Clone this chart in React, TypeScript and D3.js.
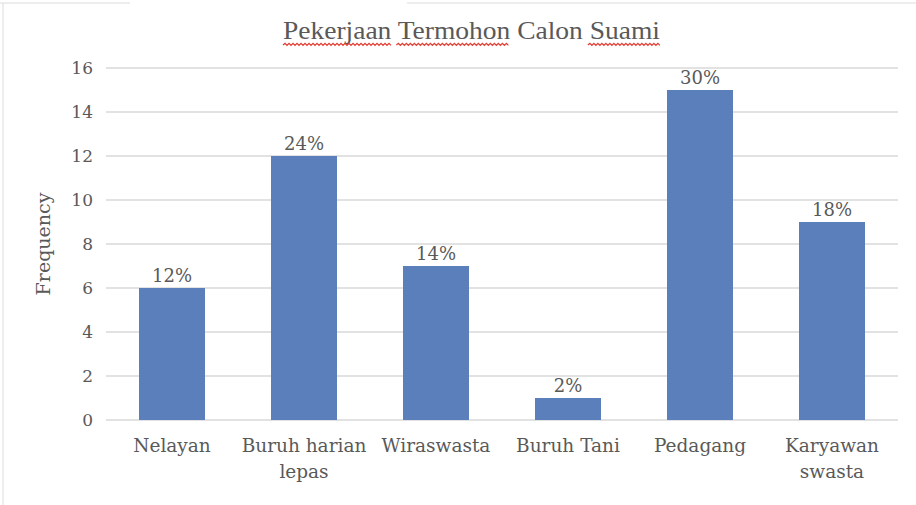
import React from "react";
import * as d3 from "d3";

const categories = ["Nelayan", "Buruh harian|lepas", "Wiraswasta", "Buruh Tani", "Pedagang", "Karyawan|swasta"];
const frequencies = [6, 12, 7, 1, 15, 9];
const percentLabels = ["12%", "24%", "14%", "2%", "30%", "18%"];
const yTicks = [0, 2, 4, 6, 8, 10, 12, 14, 16];
const titleWords = ["Pekerjaan", "Termohon", "Calon", "Suami"];
const misspelled = [true, true, false, true];

const W = 916;
const H = 505;
const margin = { left: 106, right: 18, top: 68, bottom: 85 };
const labelFont = "'DejaVu Serif', serif";
const textGrey = "#595959";

const wavyPath = (x0: number, x1: number, y: number) => {
  const step = 2;
  let d = `M${x0},${y}`;
  let up = true;
  for (let x = x0 + step; x <= x1; x += step) {
    d += ` L${x},${up ? y - 1.6 : y + 0.4}`;
    up = !up;
  }
  return d;
};

const Title = () => {
  const ref = React.useRef<SVGTextElement>(null);
  const [squiggles, setSquiggles] = React.useState<string[]>([]);

  React.useEffect(() => {
    const el = ref.current;
    if (!el) return;
    const spans = Array.from(el.querySelectorAll("tspan")) as SVGTSpanElement[];
    const paths: string[] = [];
    spans.forEach((s, i) => {
      if (!misspelled[i]) return;
      const b = s.getBBox();
      const start = i > 0 ? b.x + 5 : b.x;
      paths.push(wavyPath(start, b.x + b.width, 45));
    });
    setSquiggles(paths);
  }, []);

  return (
    <g>
      <text
        ref={ref}
        x={283}
        y={39}
        textLength={377}
        lengthAdjust="spacingAndGlyphs"
        fontFamily="'Liberation Serif', serif"
        fontSize={26}
        fill={textGrey}
      >
        {titleWords.map((w, i) => (
          <tspan key={w}>{(i > 0 ? " " : "") + w}</tspan>
        ))}
      </text>
      {squiggles.map((d, i) => (
        <path key={i} d={d} fill="none" stroke="#e03c31" strokeWidth={1.2} />
      ))}
    </g>
  );
};

const App = () => {
  const x = d3
    .scaleBand<string>()
    .domain(categories)
    .range([margin.left, 898])
    .paddingInner(0.5)
    .paddingOuter(0.25);
  const y = d3
    .scaleLinear()
    .domain([0, 16])
    .range([H - margin.bottom, margin.top]);

  return (
    <svg width={W} height={H} style={{ position: "absolute", left: 0, top: 0, background: "#fff" }}>
      <path d="M0,3 H130 M407,3 H916 M3,3 V505" stroke="#dcdcdc" strokeWidth={1} fill="none" />
      <Title />
      {yTicks.map((t) => (
        <g key={t}>
          <line x1={margin.left} x2={898} y1={y(t)} y2={y(t)} stroke="#d9d9d9" strokeWidth={1.3} />
          <text x={93} y={y(t)} dy="0.35em" textAnchor="end" fontFamily={labelFont} fontSize={17} fill={textGrey}>
            {t}
          </text>
        </g>
      ))}
      <text
        transform={`translate(50,${(y(0) + y(16)) / 2}) rotate(-90)`}
        textAnchor="middle"
        fontFamily={labelFont}
        fontSize={19}
        fill={textGrey}
      >
        Frequency
      </text>
      {categories.map((c, i) => (
        <g key={c}>
          <rect x={x(c)} y={y(frequencies[i])} width={x.bandwidth()} height={y(0) - y(frequencies[i])} fill="#5a7fbb" />
          <text
            x={(x(c) ?? 0) + x.bandwidth() / 2}
            y={y(frequencies[i]) - 6}
            textAnchor="middle"
            fontFamily={labelFont}
            fontSize={18}
            fill={textGrey}
          >
            {percentLabels[i]}
          </text>
          <text textAnchor="middle" fontFamily={labelFont} fontSize={18.5} fill={textGrey}>
            {c.split("|").map((line, j) => (
              <tspan key={j} x={(x(c) ?? 0) + x.bandwidth() / 2} y={452 + j * 26}>
                {line}
              </tspan>
            ))}
          </text>
        </g>
      ))}
    </svg>
  );
};

export default App;
